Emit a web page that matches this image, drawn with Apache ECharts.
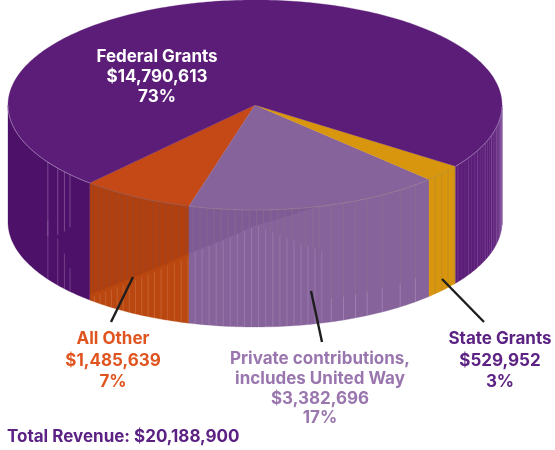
<!DOCTYPE html>
<html><head><meta charset="utf-8">
<style>html,body{margin:0;padding:0;background:#fff}#c{width:555px;height:450px}</style>
<script src="https://cdn.jsdelivr.net/npm/echarts@6/dist/echarts.min.js"></script></head>
<body><div id="c"></div>
<script>
// DATA
var categories = ['All Other', 'Private contributions, includes United Way', 'State Grants', 'Federal Grants'];
var revenue = [1485639, 3382696, 529952, 14790613];
var amountLabels = ['$1,485,639', '$3,382,696', '$529,952', '$14,790,613'];
var percentLabels = ['7%', '17%', '3%', '73%'];
var totalLabel = 'Total Revenue: $20,188,900';

// STYLE / LAYOUT
var topColors = ['#C44917', '#86639A', '#D8960E', '#5C1D78'];
var sideUpper = ['#B0400F', '#7E5B94', '#D8960E', '#4E1169'];
var sideLower = ['#B9470F', '#86639A', '#D8960E', '#5C1D78'];
var labelColors = ['#E0541F', '#9A76AE', '#5B2183', '#FFFFFF'];
var cx = 255, cy = 105, rx = 247, ry = 105, depth = 117, startDeg = -42;
var FONT = 'Inter, "Noto Sans", sans-serif';

var total = revenue.reduce(function (a, b) { return a + b; }, 0);
function pt(deg, dy) {
  var t = deg * Math.PI / 180;
  return [cx + rx * Math.sin(t), cy + ry * Math.cos(t) + (dy || 0)];
}
function tip(d) { // where the light lower streaks of the wall begin (fraction of height)
  if (d < -15.5) return 0.95 - (d + 42) / 26.5 * 0.55;
  if (d < 0) return 0.40 - (d + 15.5) / 15.5 * 0.27;
  return 0.13 + d / 18 * 0.3;
}
function diag(d) { // darker upper band, tapering out right of the front
  if (d < 0) return tip(d);
  return Math.max(0, 0.13 * (1 - d / 14));
}
function streak(d, a, b, color, w) {
  var p = pt(d, depth * a), q = pt(d, depth * b);
  return { type: 'line', shape: { x1: p[0], y1: p[1], x2: q[0], y2: q[1] },
    style: { stroke: color, lineWidth: w || 0.7 }, silent: true };
}
function band(a, b, fa, fb, color) { // wall piece between two height functions
  var pts = [], d;
  for (d = a; d < b; d += 1) pts.push(pt(d, depth * fa(d)));
  pts.push(pt(b, depth * fa(b)));
  for (d = b; d > a; d -= 1) pts.push(pt(d, depth * fb(d)));
  pts.push(pt(a, depth * fb(a)));
  return { type: 'polygon', shape: { points: pts }, style: { fill: color, stroke: color, lineWidth: 0.3 }, silent: true };
}
function zero() { return 0; }
function one() { return 1; }
function renderSlice(params, api) {
  var i = params.dataIndex, before = 0;
  for (var k = 0; k < i; k++) before += revenue[k];
  var a0 = startDeg + before / total * 360, a1 = a0 + api.value(1) / total * 360;
  var kids = [];
  // walls
  if (i === 3) {
    kids.push(band(a0, 90, zero, one, sideLower[3]));
    kids.push(band(270, a1, zero, one, sideUpper[3]));
  } else {
    kids.push(band(a0, a1, zero, one, sideLower[i]));
    if (i < 2) {
      kids.push(band(a0, Math.min(a1, 14), zero, diag, sideUpper[i]));
    }
  }
  // facet streaks
  if (i === 0) {
    for (var d2 = a0 + 1; d2 < a1; d2 += 1.65) {
      kids.push(streak(d2, 0, Math.min(tip(d2), 0.9), '#8F4A3A', 0.5));
      kids.push(streak(d2 + 0.5, tip(d2) + 0.02, 1, 'rgba(235,170,130,0.45)', 0.6));
    }
  } else if (i === 1) {
    for (var d3 = a0 + 1; d3 < a1; d3 += 1.65) {
      if (d3 < 16) {
        kids.push(streak(d3, 0, tip(d3), '#93708F', 0.5));
        kids.push(streak(d3 + 0.5, tip(d3), 1, 'rgba(205,185,220,0.42)', 0.6));
      }
    }
    [18, 21, 24, 27, 31, 36, 40.5].forEach(function (d9) {
      kids.push(streak(d9, 0, 0.8, '#977388', 0.5));
      kids.push(streak(d9, 0.8, 1, 'rgba(195,175,210,0.55)', 0.7));
    });
  } else if (i === 2) {
    for (var d4 = a0 + 2; d4 < a1; d4 += 2.3) kids.push(streak(d4, 0, 1, '#B58A2C', 0.6));
  } else {
    // right-hand wall of the large slice: facets denser and lighter toward the edge
    for (var d5 = a0 + 1, n = 0; d5 < 89; d5 += 1.5, n++) {
      var alpha = 0.12 + (d5 - 55) / 35 * 0.4 + (n % 3 === 0 ? 0.2 : 0);
      kids.push(streak(d5, 0, 1, 'rgba(165,130,190,' + Math.min(alpha, 0.9).toFixed(2) + ')', 0.8));
    }
    kids.push(streak(88.5, 0, 1, 'rgba(130,85,160,0.8)', 1.4));
    [-48.5, -50.5, -53, -57].forEach(function (d6, n2) {
      kids.push(streak(d6, 0, 0.45 + n2 * 0.06, 'rgba(170,135,190,0.7)', 0.7));
      kids.push(streak(d6, 0.8 - n2 * 0.1, 1, 'rgba(170,135,190,0.55)', 0.7));
    });
  }
  // top face
  var pts = [[cx, cy]];
  for (var d7 = a0; d7 < a1; d7 += 1) pts.push(pt(d7));
  pts.push(pt(a1));
  kids.push({ type: 'polygon', shape: { points: pts },
    style: { fill: topColors[i], stroke: topColors[i], lineWidth: 0.3 }, silent: true });
  // rim
  var rims = [];
  if (i === 3) {
    var r1 = [], r2 = [];
    for (var a = a0; a <= 90; a += 1) r1.push(pt(a));
    for (var b = 270; b <= a1; b += 1) r2.push(pt(b));
    rims = [r1, r2];
  } else {
    var r = [];
    for (var c = a0; c <= a1; c += 1) r.push(pt(c));
    rims = [r];
  }
  rims.forEach(function (r) {
    kids.push({ type: 'polyline', shape: { points: r },
      style: { stroke: ['#8F5A5A', '#9A7A8F', '#B58A2C', 'rgba(185,160,205,0.8)'][i], lineWidth: 0.7, fill: 'none' }, silent: true });
  });
  return { type: 'group', children: kids };
}

// leader lines
var leaders = [
  [[133, 277], [111, 322]],
  [[311, 291], [322, 342]],
  [[442, 279], [484, 322]]
];
var labelAnchors = [[113, 339], [320, 359], [500, 339], [157, 57]];
var lineGap = [21.5, 19.7, 21.5, 20];

function renderLabel(params, api) {
  var i = params.dataIndex, lines;
  if (i === 1) lines = ['Private contributions,', 'includes United Way', amountLabels[1], percentLabels[1]];
  else lines = [categories[i], amountLabels[i], percentLabels[i]];
  var kids = lines.map(function (t, n) {
    return { type: 'text', style: { text: t, x: labelAnchors[i][0], y: labelAnchors[i][1] + n * lineGap[i],
      fill: labelColors[i], font: '700 17px ' + FONT, align: 'center', verticalAlign: 'middle' }, silent: true };
  });
  if (leaders[i]) {
    kids.push({ type: 'line', shape: { x1: leaders[i][0][0], y1: leaders[i][0][1], x2: leaders[i][1][0], y2: leaders[i][1][1] },
      style: { stroke: '#1E1E1E', lineWidth: 2.4 }, silent: true });
  }
  return { type: 'group', children: kids };
}

var data = categories.map(function (c, i) { return [c, revenue[i]]; });
var chart = echarts.init(document.getElementById('c'), null, { renderer: 'canvas' });
chart.setOption({
  animation: false,
  backgroundColor: '#fff',
  title: { text: totalLabel, left: 7, top: 428, padding: 0,
    textStyle: { color: '#5B2183', fontFamily: 'Inter, "Noto Sans", sans-serif', fontWeight: 700, fontSize: 17, lineHeight: 18 } },
  series: [
    { type: 'custom', coordinateSystem: 'none', data: data, renderItem: renderSlice, silent: true, z: 1 },
    { type: 'custom', coordinateSystem: 'none', data: data, renderItem: renderLabel, silent: true, z: 2 }
  ]
});
</script></body></html>
